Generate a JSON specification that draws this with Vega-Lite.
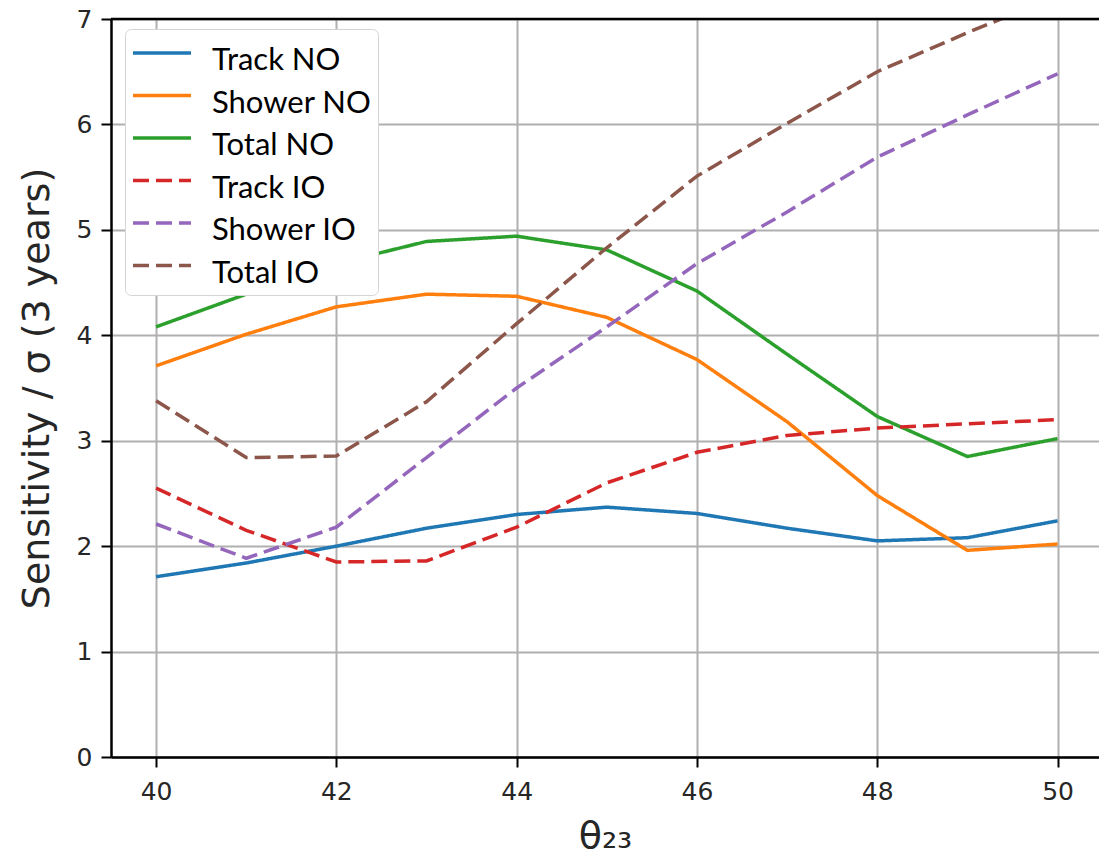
{
  "$schema": "https://vega.github.io/schema/vega-lite/v6.json",
  "width": 988,
  "height": 738,
  "autosize": {"type": "none"},
  "padding": {"left": 111, "top": 19, "right": 0, "bottom": 100},
  "background": "white",
  "config": {
    "view": {"stroke": null},
    "axis": {
      "labelFont": "DejaVu Sans",
      "titleFont": "DejaVu Sans",
      "labelColor": "#262626",
      "titleColor": "#262626",
      "labelFontSize": 25,
      "titleFontSize": 38,
      "titleFontWeight": "normal",
      "tickColor": "#000000",
      "tickWidth": 2,
      "tickSize": 10,
      "domainColor": "#000000",
      "domainWidth": 2.5,
      "gridColor": "#b0b0b0",
      "gridWidth": 2
    },
    "style": {"guide-label": {"lineHeight": 16}}
  },
  "layer": [
    {
      "data": {
        "values": [
          {"theta": 40, "value": 1.71, "series": "Track NO"},
          {"theta": 41, "value": 1.84, "series": "Track NO"},
          {"theta": 42, "value": 2.0, "series": "Track NO"},
          {"theta": 43, "value": 2.17, "series": "Track NO"},
          {"theta": 44, "value": 2.3, "series": "Track NO"},
          {"theta": 45, "value": 2.37, "series": "Track NO"},
          {"theta": 46, "value": 2.31, "series": "Track NO"},
          {"theta": 47, "value": 2.17, "series": "Track NO"},
          {"theta": 48, "value": 2.05, "series": "Track NO"},
          {"theta": 49, "value": 2.08, "series": "Track NO"},
          {"theta": 50, "value": 2.24, "series": "Track NO"},
          {"theta": 40, "value": 3.71, "series": "Shower NO"},
          {"theta": 41, "value": 4.01, "series": "Shower NO"},
          {"theta": 42, "value": 4.27, "series": "Shower NO"},
          {"theta": 43, "value": 4.39, "series": "Shower NO"},
          {"theta": 44, "value": 4.37, "series": "Shower NO"},
          {"theta": 45, "value": 4.17, "series": "Shower NO"},
          {"theta": 46, "value": 3.77, "series": "Shower NO"},
          {"theta": 47, "value": 3.18, "series": "Shower NO"},
          {"theta": 48, "value": 2.48, "series": "Shower NO"},
          {"theta": 49, "value": 1.96, "series": "Shower NO"},
          {"theta": 50, "value": 2.02, "series": "Shower NO"},
          {"theta": 40, "value": 4.08, "series": "Total NO"},
          {"theta": 41, "value": 4.39, "series": "Total NO"},
          {"theta": 42, "value": 4.68, "series": "Total NO"},
          {"theta": 43, "value": 4.89, "series": "Total NO"},
          {"theta": 44, "value": 4.94, "series": "Total NO"},
          {"theta": 45, "value": 4.81, "series": "Total NO"},
          {"theta": 46, "value": 4.42, "series": "Total NO"},
          {"theta": 47, "value": 3.82, "series": "Total NO"},
          {"theta": 48, "value": 3.23, "series": "Total NO"},
          {"theta": 49, "value": 2.85, "series": "Total NO"},
          {"theta": 50, "value": 3.02, "series": "Total NO"},
          {"theta": 40, "value": 2.55, "series": "Track IO"},
          {"theta": 41, "value": 2.15, "series": "Track IO"},
          {"theta": 42, "value": 1.85, "series": "Track IO"},
          {"theta": 43, "value": 1.86, "series": "Track IO"},
          {"theta": 44, "value": 2.18, "series": "Track IO"},
          {"theta": 45, "value": 2.6, "series": "Track IO"},
          {"theta": 46, "value": 2.89, "series": "Track IO"},
          {"theta": 47, "value": 3.05, "series": "Track IO"},
          {"theta": 48, "value": 3.12, "series": "Track IO"},
          {"theta": 49, "value": 3.16, "series": "Track IO"},
          {"theta": 50, "value": 3.2, "series": "Track IO"},
          {"theta": 40, "value": 2.21, "series": "Shower IO"},
          {"theta": 41, "value": 1.885, "series": "Shower IO"},
          {"theta": 42, "value": 2.18, "series": "Shower IO"},
          {"theta": 43, "value": 2.84, "series": "Shower IO"},
          {"theta": 44, "value": 3.5, "series": "Shower IO"},
          {"theta": 45, "value": 4.08, "series": "Shower IO"},
          {"theta": 46, "value": 4.68, "series": "Shower IO"},
          {"theta": 47, "value": 5.17, "series": "Shower IO"},
          {"theta": 48, "value": 5.69, "series": "Shower IO"},
          {"theta": 49, "value": 6.09, "series": "Shower IO"},
          {"theta": 50, "value": 6.48, "series": "Shower IO"},
          {"theta": 40, "value": 3.38, "series": "Total IO"},
          {"theta": 41, "value": 2.84, "series": "Total IO"},
          {"theta": 42, "value": 2.855, "series": "Total IO"},
          {"theta": 43, "value": 3.37, "series": "Total IO"},
          {"theta": 44, "value": 4.11, "series": "Total IO"},
          {"theta": 45, "value": 4.83, "series": "Total IO"},
          {"theta": 46, "value": 5.51, "series": "Total IO"},
          {"theta": 47, "value": 6.01, "series": "Total IO"},
          {"theta": 48, "value": 6.5, "series": "Total IO"},
          {"theta": 49, "value": 6.87, "series": "Total IO"},
          {"theta": 50, "value": 7.22, "series": "Total IO"}
        ]
      },
      "mark": {"type": "line", "clip": true, "strokeWidth": 3.5},
      "encoding": {
        "x": {
          "field": "theta",
          "type": "quantitative",
          "scale": {"domain": [39.5, 50.46], "nice": false, "zero": false},
          "axis": {
            "values": [40, 42, 44, 46, 48, 50],
            "format": "d",
            "title": "θ₂₃",
            "labelPadding": 12,
            "titlePadding": 13,
            "labelFlush": false
          }
        },
        "y": {
          "field": "value",
          "type": "quantitative",
          "scale": {"domain": [0, 7], "nice": false},
          "axis": {
            "values": [0, 1, 2, 3, 4, 5, 6, 7],
            "format": "d",
            "title": "Sensitivity / σ (3 years)",
            "labelPadding": 9,
            "titlePadding": 20
          }
        },
        "color": {
          "field": "series",
          "type": "nominal",
          "sort": ["Track NO", "Shower NO", "Total NO", "Track IO", "Shower IO", "Total IO"],
          "scale": {
            "domain": ["Track NO", "Shower NO", "Total NO", "Track IO", "Shower IO", "Total IO"],
            "range": ["#1f77b4", "#ff7f0e", "#2ca02c", "#d62728", "#9467bd", "#8c564b"]
          },
          "legend": {
            "title": null,
            "orient": "none",
            "legendX": 14,
            "legendY": 10,
            "direction": "vertical",
            "padding": 6,
            "fillColor": "white",
            "strokeColor": "#d4d4d4",
            "cornerRadius": 6,
            "symbolType": "stroke",
            "symbolSize": 3364,
            "symbolStrokeWidth": 3.5,
            "labelFont": "Lato",
            "labelFontSize": 31,
            "labelColor": "#000000",
            "labelOffset": 19,
            "labelBaseline": "line-top",
            "clipHeight": 36,
            "rowPadding": 1.5
          }
        },
        "strokeDash": {
          "field": "series",
          "type": "nominal",
          "sort": ["Track NO", "Shower NO", "Total NO", "Track IO", "Shower IO", "Total IO"],
          "scale": {
            "domain": ["Track NO", "Shower NO", "Total NO", "Track IO", "Shower IO", "Total IO"],
            "range": [[1, 0], [1, 0], [1, 0], [16, 7], [16, 7], [16, 7]]
          }
        }
      }
    },
    {
      "data": {"values": [{}]},
      "mark": {"type": "rule", "color": "#000000", "strokeWidth": 2.5},
      "encoding": {"y": {"datum": 7}}
    }
  ]
}
